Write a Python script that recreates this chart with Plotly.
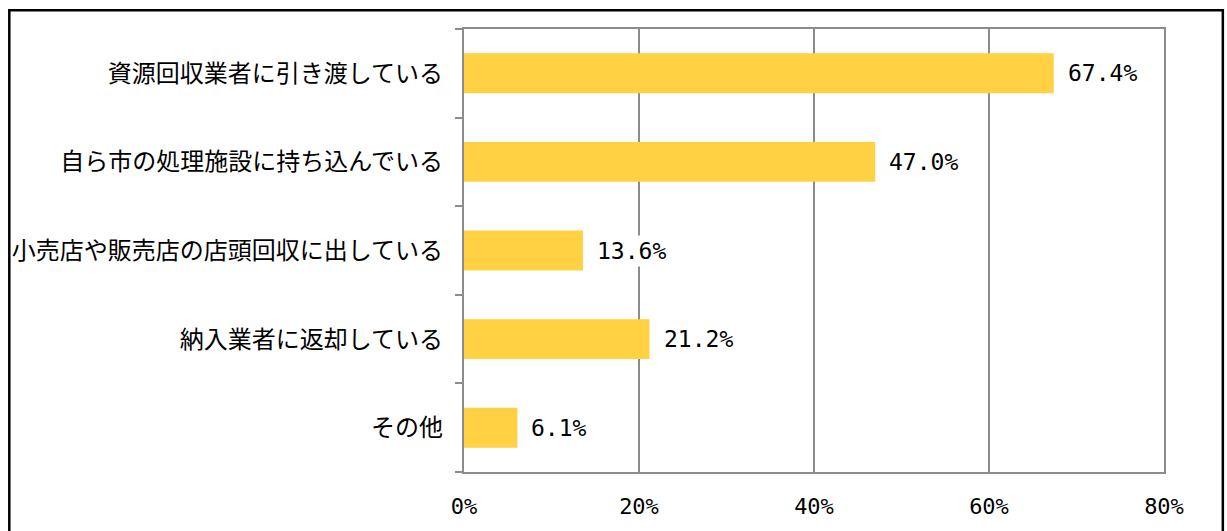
import plotly.graph_objects as go

# Survey answers (top to bottom) and their shares in percent
categories = [
    "資源回収業者に引き渡している",
    "自ら市の処理施設に持ち込んでいる",
    "小売店や販売店の店頭回収に出している",
    "納入業者に返却している",
    "その他",
]
values = [67.4, 47.0, 13.6, 21.2, 6.1]
x_ticks = [0, 20, 40, 60, 80]
x_tick_labels = ["0%", "20%", "40%", "60%", "80%"]

positions = list(range(len(categories)))
boundaries = [p - 0.5 for p in positions] + [positions[-1] + 0.5]
y_range = [positions[-1] + 0.5, positions[0] - 0.5]

W, H = 1227, 531
ML, MR, MT, MB = 462, 63, 29, 56
pw, ph = W - ML - MR, H - MT - MB

JP_FONT = "Noto Sans CJK JP"
NUM_FONT = "DejaVu Sans Mono, Noto Sans CJK JP"
GRID = "#8c8c8c"
BAR = "#FFD143"

fig = go.Figure()
fig.add_trace(go.Bar(
    x=values, y=positions, orientation="h",
    marker=dict(color=BAR, line=dict(width=0)),
    width=0.45, hoverinfo="skip", showlegend=False,
))
# invisible trace so the label axis is drawn
fig.add_trace(go.Scatter(
    x=[0] * len(positions), y=positions, yaxis="y2", mode="markers",
    marker=dict(opacity=0), hoverinfo="skip", showlegend=False,
))

for v, p in zip(values, positions):
    fig.add_annotation(
        x=v, y=p, xref="x", yref="y", text=f"{v:.1f}%",
        showarrow=False, xanchor="left", yanchor="middle", xshift=11,
        bgcolor="white", borderpad=2,
        font=dict(family=NUM_FONT, size=23, color="#000000"),
    )

# outer frame around the whole chart
fig.add_shape(
    type="rect", xref="paper", yref="paper",
    x0=(6 - ML) / pw, x1=(1223 - ML) / pw,
    y0=-(MB + 10) / ph, y1=1 + (MT - 10) / ph,
    line=dict(color="black", width=2.5), fillcolor="rgba(0,0,0,0)", layer="below",
)

fig.update_layout(
    width=W, height=H,
    margin=dict(l=ML, r=MR, t=MT, b=MB, pad=0),
    paper_bgcolor="white", plot_bgcolor="white",
    showlegend=False,
    xaxis=dict(
        range=[0, 80], tickvals=x_ticks, ticktext=x_tick_labels,
        showgrid=True, gridcolor=GRID, gridwidth=1.6,
        showline=True, linecolor=GRID, linewidth=2, mirror=True,
        ticks="", zeroline=False, fixedrange=True,
        tickfont=dict(family=NUM_FONT, size=22, color="#000000"),
        ticklabelstandoff=14,
    ),
    yaxis=dict(
        range=y_range, tickvals=boundaries, showticklabels=False,
        ticks="outside", ticklen=7, tickcolor=GRID, tickwidth=2,
        showgrid=False, zeroline=False,
        showline=True, linecolor=GRID, linewidth=2, mirror=True,
        fixedrange=True,
    ),
    yaxis2=dict(
        overlaying="y", side="left", range=y_range,
        tickvals=positions, ticktext=categories, ticks="",
        showgrid=False, zeroline=False, showline=False,
        tickfont=dict(family=JP_FONT, size=24, color="#000000"),
        ticklabelstandoff=20, fixedrange=True,
    ),
)

fig.write_html("out.html")
